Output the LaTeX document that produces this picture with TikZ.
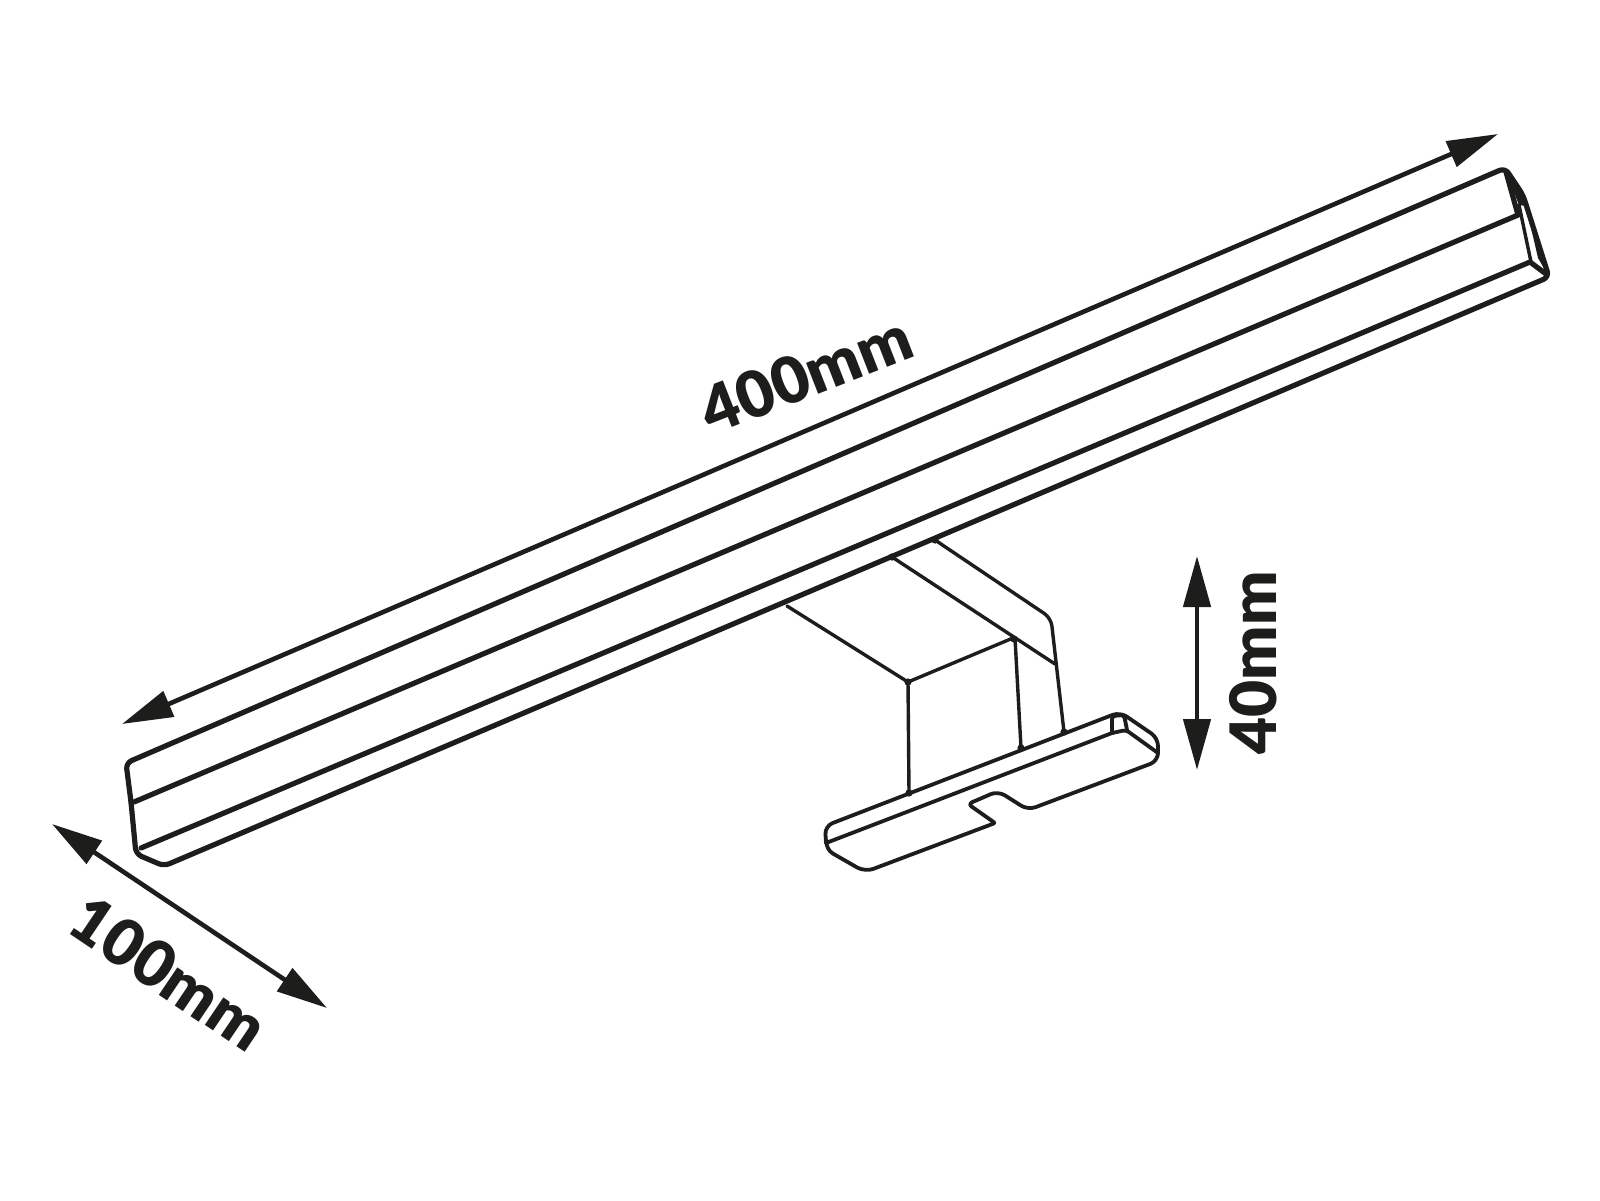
\documentclass[tikz,border=0pt]{standalone}
\usepackage{fontspec}
\newfontfamily\dimfont{Lato Black}
\usetikzlibrary{arrows.meta}
\definecolor{inkblack}{HTML}{1D1D1B}
\tikzset{
    barline/.style={draw=inkblack,line width=5.2pt,line join=round,line cap=round},
    armline/.style={draw=inkblack,line width=3.4pt,line join=round,line cap=round},
    footline/.style={draw=inkblack,line width=3.8pt,line join=round,line cap=round},
    dimarrow/.style={draw=inkblack,line width=4.6pt,{Triangle[length=51pt,width=27pt]}-{Triangle[length=51pt,width=27pt]}},
    dimlabel/.style={text=inkblack,font=\fontsize{64}{64}\dimfont,inner sep=0pt},
}
\begin{document}
\begin{tikzpicture}[x=1pt,y=-1pt]
    \useasboundingbox (0,0) rectangle (1600,1200);

    % long bar
    \draw[barline,rounded corners=6pt] (126,763) -- (1505,168) -- (1523,195) -- (1549,277)
        -- (164,866) -- (136,854) -- (131,802) -- cycle;
    \draw[barline] (134,802) -- (1518,215);
    \draw[barline] (141,848) -- (1530,262) -- (1546,274);
    \draw[barline] (1506,172) -- (1518,215);
    \draw[armline] (1519,205) -- (1531,262);
    \fill[inkblack] (1506,172) -- (1522,194) -- (1549,277) -- (1538,258) -- (1526,206) -- (1519,205) -- cycle;

    % arm
    \draw[armline] (787,606) -- (908,682) -- (1013,638);
    \draw[armline] (892,557) -- (1055,664);
    \draw[armline,rounded corners=8pt] (935,540) -- (1051,618) -- (1064,732);
    \draw[armline] (908,682) -- (909,793);
    \draw[armline] (1015,638) -- (1021,748);
    \foreach \jx/\jy in {908/682,1014/639,892/557,935/540,909/793,1021/748,1064/732}
        \fill[inkblack] (\jx,\jy) circle (3.6pt);

    % foot
    \draw[footline,rounded corners=8pt] (826,843) -- (825,826) -- (1120,712) -- (1158,738)
        -- (1158,761) -- (1028,810) -- (998,791) [rounded corners=4pt] -- (968,804)
        [rounded corners=1pt] -- (995,823) [rounded corners=9pt] -- (865,872) -- (825,849) -- (826,843);
    \draw[footline,rounded corners=3pt] (826,843) -- (1112,733) -- (1126,730) -- (1158,753);
    \draw[footline,rounded corners=3pt] (1112,733) -- (1112,716) -- (1124,715) -- (1127,730);

    % dimensions
    \coordinate (lenA) at (122,724);
    \coordinate (lenB) at (1498,134);
    \coordinate (widA) at (52,824);
    \coordinate (widB) at (327,1008);
    \coordinate (hgtA) at (1197,556);
    \coordinate (hgtB) at (1197,770);
    \draw[dimarrow] (lenA) -- (lenB);
    \draw[dimarrow] (widA) -- (widB);
    \draw[dimarrow] (hgtA) -- (hgtB);
    \node[dimlabel,rotate=21.3] (lenText) at (806,374) {400mm};
    \node[dimlabel,rotate=-34] (widText) at (169,973) {100mm};
    \node[dimlabel,rotate=90] (hgtText) at (1253,663) {40mm};
\end{tikzpicture}
\end{document}
